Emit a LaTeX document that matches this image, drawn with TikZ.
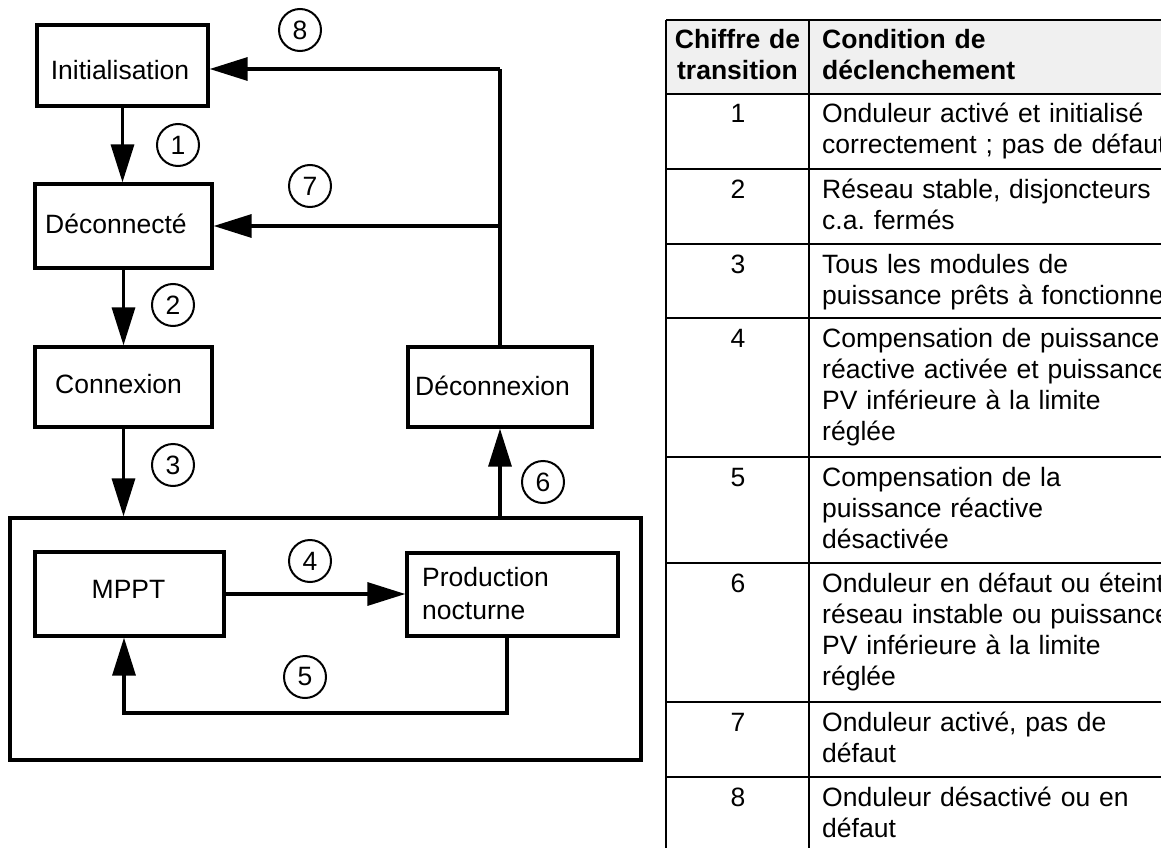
\documentclass[tikz,border=0pt]{standalone}
\usepackage{fontspec}
\setmainfont{Liberation Sans}
\usetikzlibrary{arrows.meta}
\definecolor{hdr}{RGB}{240,240,240}
\frenchspacing
\begin{document}
\begin{tikzpicture}[x=1pt,y=-1pt,
  box/.style={draw, line width=3.3pt, inner sep=0pt},
  txt/.style={inner sep=0pt, font=\fontsize{26.5}{31}\selectfont},
  num/.style={circle, draw, line width=2pt, minimum size=42pt, inner sep=0pt, font=\fontsize{26.5}{31}\selectfont},
  arr/.style={line width=3.3pt, -{Triangle[length=38pt,width=23pt]}},
  ln/.style={line width=3.3pt},
  tline/.style={line width=2.5pt},
  cellt/.style={inner sep=0pt, anchor=base west, align=left, text width=420pt, font=\fontsize{26.5}{31}\selectfont},
  cellc/.style={inner sep=0pt, anchor=base, align=center, text width=140pt, font=\fontsize{26.5}{31}\selectfont}
]
\useasboundingbox (0,0) rectangle (1161,848);
\clip (0,0) rectangle (1161,848);

% ---------- state boxes ----------
\node[box, minimum width=171pt, minimum height=81pt] (init) at (122.5,65.5) {};
\node[box, minimum width=177pt, minimum height=84pt] (dec) at (123.5,226) {};
\node[box, minimum width=177pt, minimum height=80pt] (con) at (123.5,387) {};
\node[box, minimum width=184pt, minimum height=80pt] (decx) at (500,387) {};
\node[box, minimum width=631pt, minimum height=242pt] (big) at (325.5,639) {};
\node[box, minimum width=189pt, minimum height=84pt] (mppt) at (129.5,594) {};
\node[box, minimum width=211pt, minimum height=83pt] (prod) at (512.5,594.5) {};

% ---------- box texts ----------
\node[txt, anchor=base] (tinit) at (120,80) {Initialisation};
\node[txt, anchor=base west] (tdec) at (45,233) {Déconnecté};
\node[txt, anchor=base west] (tcon) at (55,393) {Connexion};
\node[txt, anchor=base west] (tdecx) at (415,395) {Déconnexion};
\node[txt, anchor=base] (tmppt) at (128.5,598) {MPPT};
\node[txt, anchor=base west, align=left, text width=190pt, font=\fontsize{26.5}{33}\selectfont] (tprod) at (422,586) {Production\\nocturne};

% ---------- connectors ----------
\coordinate (j8) at (500,69);
\coordinate (j7) at (500,226);
\coordinate (l5a) at (507,713);
\coordinate (l5b) at (124,713);

\draw[arr] (init.south) -- (init.south |- dec.north);
\draw[arr] (dec.south) -- (dec.south |- con.north);
\draw[arr] (con.south) -- (con.south |- big.north);
\draw[arr] (decx.south |- big.north) -- (decx.south);
\draw[ln] (decx.north) -- (j8);
\draw[arr] (j8) -- (j8 -| init.east);
\draw[arr] (j7) -- (j7 -| dec.east);
\draw[arr] (mppt.east) -- (mppt.east -| prod.west);
\draw[arr] (l5a |- prod.south) -- (l5a) -- (l5b) -- (l5b |- mppt.south);

% ---------- transition numbers ----------
\node[num] (n8) at (300,30) {8};
\node[num] (n1) at (178,145) {1};
\node[num] (n7) at (310,186) {7};
\node[num] (n2) at (173,305) {2};
\node[num] (n3) at (173,465) {3};
\node[num] (n6) at (543,482) {6};
\node[num] (n4) at (310,561) {4};
\node[num] (n5) at (305,677) {5};

% ---------- table ----------
\fill[hdr] (666,20) rectangle (1175,94);
\foreach \yy in {20,94,169,244,318,457,563,702,777}
  \draw[tline] (666,\yy) -- (1175,\yy);
\draw[tline] (666,20) -- (666,860);
\draw[tline] (809,20) -- (809,860);

\node[cellc] (h1) at (737.5,49) {\bfseries Chiffre de\\\bfseries transition};
\node[cellt] (h2) at (822,49) {\bfseries Condition de\\\bfseries déclenchement};

\node[cellc] (r1a) at (738,123) {1};
\node[cellt] (r1b) at (822,123) {Onduleur activé et initialisé\\correctement ; pas de défaut};
\node[cellc] (r2a) at (738,198) {2};
\node[cellt] (r2b) at (822,198) {Réseau stable, disjoncteurs\\c.a. fermés};
\node[cellc] (r3a) at (738,273) {3};
\node[cellt] (r3b) at (822,273) {Tous les modules de\\puissance prêts à fonctionner};
\node[cellc] (r4a) at (738,347) {4};
\node[cellt] (r4b) at (822,347) {Compensation de puissance\\réactive activée et puissance\\PV inférieure à la limite\\réglée};
\node[cellc] (r5a) at (738,486) {5};
\node[cellt] (r5b) at (822,486) {Compensation de la\\puissance réactive\\désactivée};
\node[cellc] (r6a) at (738,592) {6};
\node[cellt] (r6b) at (822,592) {Onduleur en défaut ou éteint,\\réseau instable ou puissance\\PV inférieure à la limite\\réglée};
\node[cellc] (r7a) at (738,731) {7};
\node[cellt] (r7b) at (822,731) {Onduleur activé, pas de\\défaut};
\node[cellc] (r8a) at (738,806) {8};
\node[cellt] (r8b) at (822,806) {Onduleur désactivé ou en\\défaut};
\end{tikzpicture}
\end{document}
